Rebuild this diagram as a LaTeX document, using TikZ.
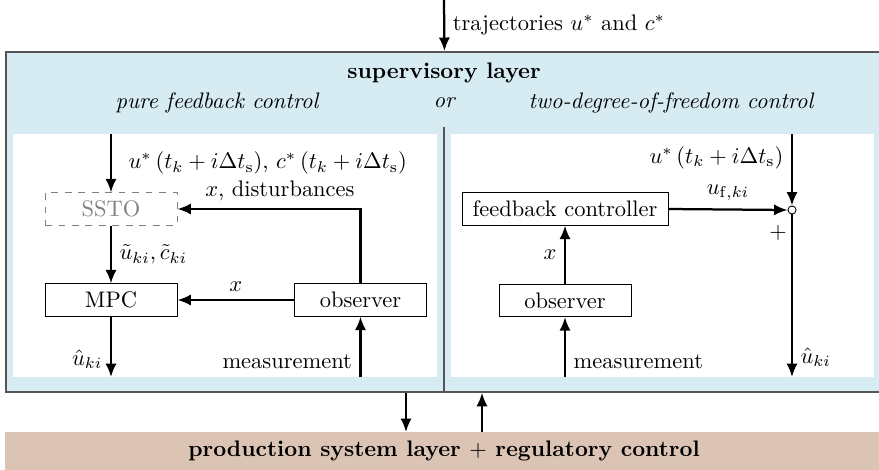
\documentclass[tikz,border=0pt]{standalone}
\usepackage{amsmath}
\usetikzlibrary{arrows.meta}
\definecolor{supblue}{RGB}{214,236,242}
\definecolor{prodtan}{RGB}{219,196,180}
\definecolor{framegray}{RGB}{85,85,85}
\begin{document}
\begin{tikzpicture}
    [x=0.445pt, y=-0.445pt,
     block/.style={draw, thin, fill=white, minimum width=58.7pt,
      minimum height=14.4pt, inner sep=2pt},
     flow/.style={-{Latex[length=6pt, width=5pt]}, line width=1pt}]
    \useasboundingbox (0,0) rectangle (879,469);

    % layers
    \node[draw=framegray, line width=0.8pt, fill=supblue, anchor=north west,
      minimum width=390.3pt, minimum height=151.3pt, inner sep=0pt] (sup) at (5,51) {};
    \node[fill=prodtan, anchor=north west, minimum width=390.3pt,
      minimum height=16.9pt, inner sep=0pt] (prod) at (5,432) {};
    \node[font=\bfseries] (prodlabel) at (444,451) {production system layer $+$ regulatory control};

    \fill[white] (13,134) rectangle (437,377);
    \fill[white] (451,134) rectangle (874,377);
    \draw[framegray, line width=0.8pt] (444,127) -- (444,391);

    \node[font=\bfseries] (suplabel) at (444,73) {supervisory layer};
    \node[font=\itshape] (pure) at (217,103) {pure feedback control};
    \node[font=\itshape] (or) at (444,103) {or};
    \node[font=\itshape] (twodof) at (671,103) {two-degree-of-freedom control};

    \coordinate (trajin) at (444,0);
    \draw[flow] (trajin) -- (sup.north)
      node[midway, right] {trajectories $u^*$ and $c^*$};

    % pure feedback control
    \node[block, dashed, draw=gray, text=gray] (ssto) at (111,209) {SSTO};
    \node[block] (mpc) at (111,300) {MPC};
    \node[block] (obsL) at (360.5,300) {observer};

    \coordinate (refL) at (111,134);
    \coordinate (outL) at (111,377);
    \coordinate (measL) at (360.5,377);

    \draw[flow] (refL) -- (ssto.north)
      node[midway, right, xshift=4pt] {$u^{*}\left(t_k+i\Delta t_{\mathrm{s}}\right)$, $c^{*}\left(t_k+i\Delta t_{\mathrm{s}}\right)$};
    \draw[flow] (obsL.north) |- (ssto.east) node[pos=0.72, above] {$x$, disturbances};
    \draw[flow] (ssto.south) -- (mpc.north) node[midway, right] {$\tilde{u}_{ki}, \tilde{c}_{ki}$};
    \draw[flow] (obsL.west) -- (mpc.east) node[midway, above] {$x$};
    \draw[flow] (mpc.south) -- (outL) node[pos=0.7, left] {$\hat{u}_{ki}$};
    \draw[flow] (measL) -- (obsL.south) node[pos=0.25, left] {measurement};

    % two-degree-of-freedom control
    \node[block, minimum width=91.7pt] (fbc) at (565,209) {feedback controller};
    \node[block] (obsR) at (565,300.5) {observer};
    \node[draw, circle, fill=white, thin, inner sep=0pt, minimum size=3.6pt] (sum) at (792,210) {};
    \node (plus) at (778,233) {$+$};

    \coordinate (refR) at (792,134);
    \coordinate (outR) at (792,377);
    \coordinate (measR) at (565,377);

    \draw[flow] (refR) -- (sum.north)
      node[pos=0.33, left] {$u^{*}\left(t_k+i\Delta t_{\mathrm{s}}\right)$};
    \draw[flow] (fbc.east) -- (sum.west) node[midway, above] {$u_{\mathrm{f},ki}$};
    \draw[flow] (sum.south) -- (outR) node[pos=0.88, right] {$\hat{u}_{ki}$};
    \draw[flow] (obsR.north) -- (fbc.south) node[midway, left] {$x$};
    \draw[flow] (measR) -- (obsR.south) node[pos=0.25, right] {measurement};

    % to and from the production system
    \coordinate (downx) at (406,0);
    \coordinate (upx) at (482,0);
    \draw[flow] (sup.south -| downx) -- (prod.north -| downx);
    \draw[flow] (prod.north -| upx) -- (sup.south -| upx);
  \end{tikzpicture}
\end{document}
